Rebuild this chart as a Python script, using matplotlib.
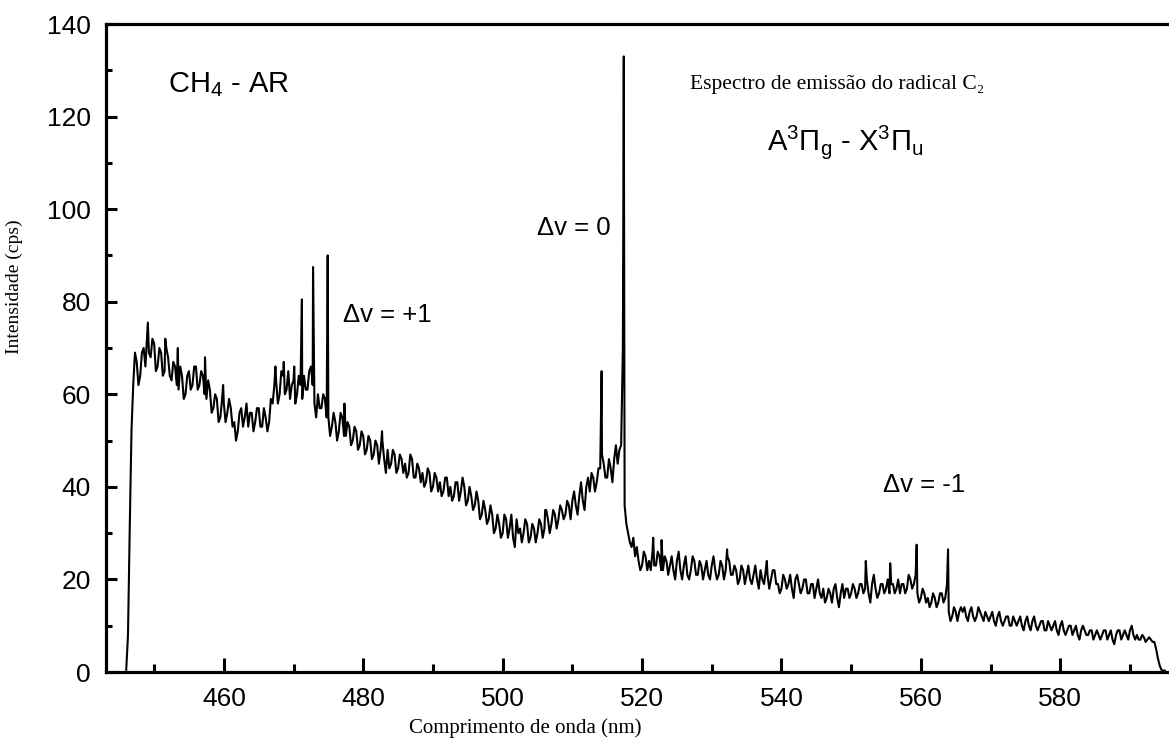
import numpy as np
import matplotlib
matplotlib.use('Agg')
import matplotlib.pyplot as plt

# Fonts: Arial-like sans for numbers/annotations, Times-like serif for axis titles
plt.rcParams['font.family'] = ['Liberation Sans', 'DejaVu Sans']
plt.rcParams['mathtext.fontset'] = 'custom'
plt.rcParams['mathtext.rm'] = 'Liberation Sans'
plt.rcParams['mathtext.it'] = 'Liberation Sans'
plt.rcParams['mathtext.bf'] = 'Liberation Sans:bold'

wavelength = np.arange(446.0, 595.01, 0.25)
intensity = [
    0.5, 8, 31, 52, 62, 69, 67, 62, 64, 69, 70, 66, 73, 69, 68, 72, 71, 65, 66, 70,   # 446
    69, 64, 65, 70, 68, 64, 63, 67, 66, 62, 61, 66, 64, 59, 60, 64, 65, 61, 62, 66,   # 451
    66, 61, 62, 65, 64, 60, 59, 63, 61, 56, 57, 60, 59, 54, 55, 59, 58, 54, 56, 59,   # 456
    57, 53, 54, 50, 52, 56, 57, 53, 55, 58, 53, 56, 56, 52, 54, 57, 57, 53, 53, 57,   # 461
    55, 52, 54, 59, 58, 62, 63, 58, 60, 65, 64, 60, 61, 65, 59, 62, 63, 58, 60, 64,   # 466
    62, 59, 64, 61, 61, 65, 66, 62, 58, 55, 60, 57, 57, 60, 59, 55, 55, 51, 53, 56,   # 471
    54, 50, 52, 56, 55, 51, 51, 54, 53, 49, 50, 53, 52, 48, 49, 52, 51, 47, 48, 51,   # 476
    50, 46, 47, 50, 49, 45, 48, 50, 46, 43, 48, 44, 45, 48, 47, 43, 44, 47, 46, 43,   # 481
    45, 42, 43, 47, 46, 42, 42, 45, 44, 41, 43, 40, 41, 44, 43, 39, 40, 43, 42, 39,   # 486
    41, 38, 39, 42, 42, 38, 40, 37, 38, 41, 41, 37, 39, 42, 40, 36, 37, 40, 38, 35,   # 491
    36, 39, 37, 33, 34, 37, 35, 32, 33, 36, 34, 30, 31, 34, 32, 29, 30, 34, 33, 29,   # 496
    31, 34, 29, 27, 33, 30, 31, 28, 30, 33, 32, 28, 29, 32, 31, 28, 30, 33, 32, 29,   # 501
    31, 35, 33, 30, 32, 35, 34, 31, 33, 36, 35, 33, 34, 37, 36, 33, 37, 39, 36, 34,   # 506
    38, 41, 37, 35, 40, 42, 39, 43, 42, 39, 41, 44, 44, 47, 45, 42, 42, 46, 44, 41,   # 511
    46, 49, 45, 48, 49, 70, 36, 32, 30, 28, 27, 29, 25, 27, 24, 22, 23, 26, 25, 22,   # 516
    24, 22, 26, 23, 23, 26, 25, 22, 22, 25, 24, 21, 23, 25, 22, 20, 24, 26, 22, 20,   # 521
    23, 25, 21, 20, 22, 25, 24, 21, 21, 24, 23, 20, 22, 24, 21, 20, 23, 25, 22, 20,   # 526
    21, 24, 23, 20, 22, 25, 24, 21, 21, 23, 22, 19, 20, 23, 22, 19, 21, 23, 20, 19,   # 531
    21, 23, 20, 18, 22, 20, 19, 22, 21, 18, 20, 22, 22, 19, 19, 17, 18, 21, 20, 18,   # 536
    19, 21, 18, 16, 20, 21, 19, 17, 18, 20, 20, 17, 17, 19, 19, 16, 18, 20, 17, 16,   # 541
    18, 15, 16, 18, 17, 15, 18, 19, 16, 14, 17, 19, 16, 18, 18, 16, 17, 19, 18, 16,   # 546
    17, 19, 19, 17, 18, 20, 17, 15, 19, 21, 18, 16, 17, 19, 19, 17, 18, 20, 17, 19,   # 551
    19, 17, 18, 20, 17, 19, 19, 17, 18, 21, 20, 18, 19, 21, 17, 15, 16, 18, 17, 15,   # 556
    16, 14, 15, 17, 16, 14, 15, 17, 17, 15, 16, 19, 13, 11, 12, 14, 13, 11, 13, 14,   # 561
    13, 14, 12, 11, 13, 14, 12, 11, 12, 14, 13, 12, 11, 13, 12, 11, 12, 13, 11, 10,   # 566
    12, 13, 11, 10, 11, 12, 12, 10, 10, 12, 11, 10, 11, 12, 10, 9, 11, 12, 10, 9,     # 571
    11, 12, 10, 9, 10, 11, 11, 9, 9, 11, 10, 9, 10, 11, 9, 8, 10, 11, 9, 8,           # 576
    9, 10, 10, 8, 9, 10, 8, 7, 9, 10, 9, 8, 8, 9, 9, 7, 8, 9, 8, 7,                   # 581
    8, 9, 9, 7, 8, 9, 7, 6, 8, 9, 9, 7, 8, 9, 8, 7, 9, 10, 8, 7,                      # 586
    8, 7, 7, 8, 7.5, 6.5, 7, 7.5, 7, 6.5, 6.5, 5, 3, 1.5, 0.5, 0.3, 0.3,              # 591
]

# Narrow emission lines (position in nm, peak intensity)
line_wl = [449.1, 451.6, 453.4, 457.3, 459.9, 467.4, 468.6, 470.1, 471.2,
           472.8, 474.9, 477.3, 482.7, 506.1, 514.2, 517.38, 521.6,
           522.8, 532.2, 537.9, 552.1, 555.6, 559.4, 563.9]
line_int = [75.5, 72, 70, 68, 62, 66, 67, 66, 80.5,
            87.5, 90, 58, 52, 35, 65, 133, 29,
            28.5, 26.5, 24, 24, 23.5, 27.5, 26.5]

# Merge the sampled baseline and the emission lines
x = np.concatenate([wavelength, line_wl])
y = np.concatenate([intensity, line_int])
order = np.argsort(x, kind='stable')
x = x[order]
y = y[order]

fig = plt.figure(figsize=(11.69, 7.48), dpi=100)
ax = fig.add_axes([0.0907, 0.1016, 0.9093, 0.8663])

ax.plot(x, y, color='black', linewidth=1.5)

ax.set_xlim(443.1, 595.6)
ax.set_ylim(0, 140)

# Frame: left, top and bottom only
for side in ['left', 'top', 'bottom']:
    ax.spines[side].set_linewidth(2.3)
ax.spines['right'].set_visible(False)

ax.set_xticks(np.arange(460, 581, 20))
ax.set_xticks(np.arange(450, 591, 10), minor=True)
ax.set_yticks(np.arange(0, 141, 20))
ax.set_yticks(np.arange(10, 131, 20), minor=True)

ax.tick_params(axis='both', which='both', direction='in', width=2.2,
               top=False, right=False, labelsize=19, pad=11)
ax.tick_params(axis='x', which='major', length=10)
ax.tick_params(axis='x', which='minor', length=5.5)
ax.tick_params(axis='y', which='major', length=8)
ax.tick_params(axis='y', which='minor', length=4.5)

serif = ['Liberation Serif', 'DejaVu Serif']
ax.set_xlabel('Comprimento de onda (nm)', family=serif, fontsize=15)
ax.xaxis.set_label_coords(0.394, -0.072)
ax.set_ylabel('Intensidade (cps)', family=serif, fontsize=14)
ax.yaxis.set_label_coords(-0.078, 0.594)

# Annotations
ax.text(452.0, 125.3, 'CH$_4$ - AR', fontsize=21, va='baseline')
ax.text(526.9, 126.0, 'Espectro de emissão do radical C₂', family=serif,
        fontsize=15.5, va='baseline')
ax.text(537.9, 112.8, r'A$^{3}$Π$_{\mathrm{g}}$ - X$^{3}$Π$_{\mathrm{u}}$',
        fontsize=21, va='baseline')
ax.text(504.9, 94.4, 'Δv = 0', fontsize=18.5, va='baseline')
ax.text(477.1, 75.6, 'Δv = +1', fontsize=18.5, va='baseline')
ax.text(554.5, 38.9, 'Δv = -1', fontsize=18.5, va='baseline')

fig.savefig('out.png', dpi=100)
